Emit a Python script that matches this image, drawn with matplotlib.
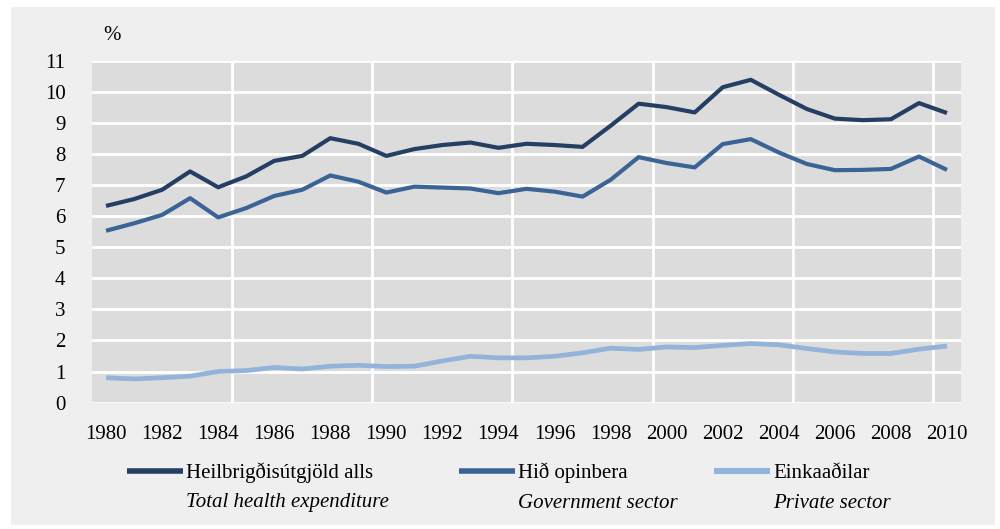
import matplotlib
matplotlib.use("Agg")
import matplotlib.pyplot as plt
from matplotlib.patches import Rectangle
from matplotlib.lines import Line2D

years = list(range(1980, 2011))
total = [6.33, 6.55, 6.85, 7.44, 6.93, 7.28, 7.78, 7.94, 8.51, 8.33,
         7.94, 8.16, 8.29, 8.37, 8.20, 8.33, 8.29, 8.23, 8.91, 9.62,
         9.51, 9.34, 10.15, 10.39, 9.91, 9.45, 9.14, 9.09, 9.12, 9.64, 9.32]
government = [5.53, 5.77, 6.04, 6.58, 5.96, 6.26, 6.65, 6.85, 7.31, 7.11,
              6.76, 6.95, 6.92, 6.89, 6.74, 6.88, 6.79, 6.63, 7.17, 7.90,
              7.71, 7.57, 8.32, 8.48, 8.05, 7.68, 7.48, 7.49, 7.52, 7.92, 7.49]
private = [0.80, 0.76, 0.80, 0.85, 1.00, 1.03, 1.13, 1.08, 1.17, 1.20,
           1.16, 1.17, 1.34, 1.49, 1.44, 1.44, 1.49, 1.60, 1.75, 1.71,
           1.79, 1.77, 1.84, 1.90, 1.86, 1.74, 1.63, 1.58, 1.58, 1.72, 1.82]

labels_is = ["Heilbrigðisútgjöld alls", "Hið opinbera", "Einkaaðilar"]
labels_en = ["Total health expenditure", "Government sector", "Private sector"]
colors = ["#243f63", "#3a6496", "#92b3da"]
widths = [3.0, 3.0, 3.4]

plt.rcParams['font.family'] = ['Liberation Serif', 'DejaVu Serif']
plt.rcParams['font.size'] = 15

fig = plt.figure(figsize=(10, 5.29), dpi=100)
fig.patch.set_facecolor("white")
# light grey panel behind everything
fig.patches.append(Rectangle((0.011, 0.007), 0.984, 0.98, transform=fig.transFigure,
                             facecolor="#efefef", edgecolor="none", zorder=-10))

ax = fig.add_axes([0.092, 0.239, 0.869, 0.646])
ax.set_zorder(1)
ax.set_facecolor("#dcdcdc")
for s in ax.spines.values():
    s.set_visible(False)

for vals, c, lw in zip([total, government, private], colors, widths):
    ax.plot(years, vals, color=c, lw=lw, solid_capstyle="butt", zorder=3)

ax.set_xlim(1979.5, 2010.5)
ax.set_ylim(0, 11)
ax.set_yticks(range(0, 12))
ax.set_xticks(years[::2])
ax.tick_params(length=0, labelsize=15)
ax.tick_params(axis="y", pad=19)
ax.tick_params(axis="x", pad=16)
for y in range(0, 12):
    ax.axhline(y, color="white", lw=2, zorder=1)
for x in range(1984, 2010, 5):
    ax.axvline(x + 0.5, color="white", lw=2, zorder=1)

fig.text(0.112, 1 - 36 / 529, "%", ha="center", va="center", fontsize=15)

# legend drawn by hand: line, name and english name below
handle_x = [(0.127, 0.183), (0.459, 0.515), (0.714, 0.770)]
for (x0, x1), c, lw, lis, len_ in zip(handle_x, colors, widths, labels_is, labels_en):
    fig.lines.append(Line2D([x0, x1], [1 - 471 / 529] * 2, transform=fig.transFigure,
                            color=c, lw=lw + 1, solid_capstyle="butt"))
    fig.text(x1 + 0.003, 1 - 473 / 529, lis, ha="left", va="center", fontsize=15)
    fig.text(x1 + 0.003, 1 - 503 / 529, len_, ha="left", va="center",
             fontsize=15, style="italic")

fig.savefig("out.png", dpi=100, facecolor="white")
